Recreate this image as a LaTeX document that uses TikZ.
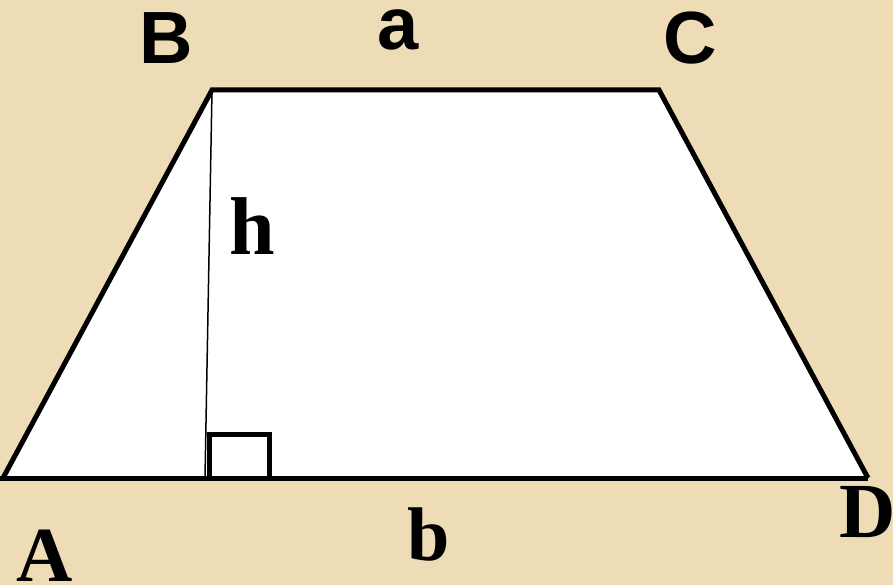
\documentclass[tikz,border=0pt]{standalone}
\usepackage{fontspec}
\setmainfont{Liberation Serif}
\newfontfamily\sansbold{Liberation Sans}[BoldFont={* Bold}]
\definecolor{parch}{HTML}{EEDCB6}
\begin{document}
\begin{tikzpicture}[x=1pt,y=-1pt,
  edge/.style={line width=5pt,line join=miter},
  sanslab/.style={inner sep=0pt,font=\sansbold\bfseries\fontsize{74}{74}\selectfont},
  seriflab/.style={inner sep=0pt,font=\bfseries\fontsize{78}{78}\selectfont}]
\fill[parch] (0,0) rectangle (893,585);
\useasboundingbox (0,0) rectangle (893,585);
\coordinate (A) at (3,478);
\coordinate (B) at (212,90);
\coordinate (C) at (659,90);
\coordinate (D) at (868,478);
\coordinate (F) at (205,478);
\coordinate (Fl) at (0,478);
\fill[white] (A) -- (B) -- (C) -- (D) -- cycle;
\draw[line width=1.5pt] (B) -- (F);
\draw[line width=4.5pt] (209.5,478) -- (209.5,434.5) -- (269.5,434.5) -- (269.5,478);
\draw[edge] (A) -- (B) -- (C) -- (D);
\draw[edge] (Fl) -- (D);
\node[sanslab] (lB) at (166,38) {B};
\node[sanslab] (lC) at (690,38) {C};
\node[sanslab,anchor=base] (la) at (398,50) {a};
\node[seriflab,anchor=base,font=\bfseries\fontsize{82}{82}\selectfont] (lh) at (252,254) {h};
\node[seriflab] (lA) at (45,556) {A};
\node[seriflab] (lD) at (868,512) {D};
\node[seriflab,anchor=base,font=\bfseries\fontsize{76}{76}\selectfont] (lb) at (429,560) {b};
\end{tikzpicture}
\end{document}
